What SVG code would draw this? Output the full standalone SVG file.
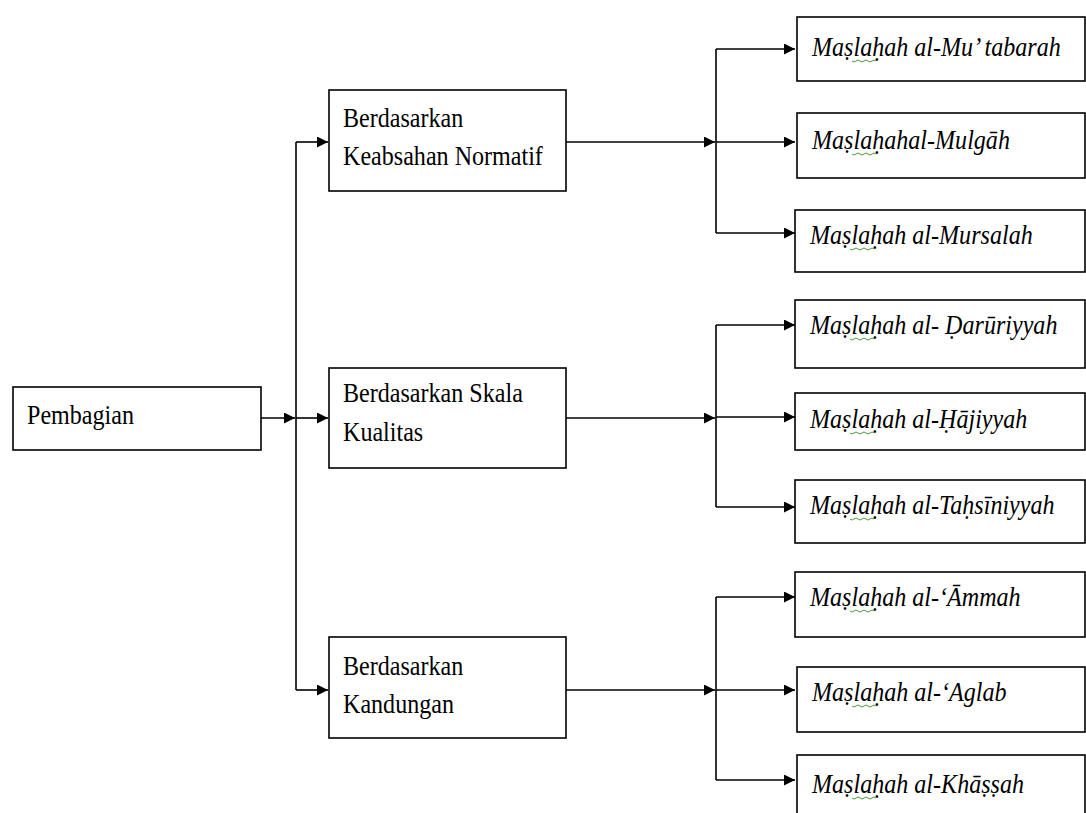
<svg xmlns="http://www.w3.org/2000/svg" width="1086" height="813" viewBox="0 0 1086 813">
<style>
.box{fill:#fff;stroke:#000;stroke-width:1.6}
.t{font-family:"Liberation Serif","Times New Roman",serif;font-size:28px;fill:#000}
.i{font-family:"Liberation Serif","Times New Roman",serif;font-size:28px;font-style:italic;fill:#000}
.ln{fill:none;stroke:#000;stroke-width:1.6}
.sq{fill:none;stroke:#4a9a3a;stroke-width:1}
</style>
<defs>
<marker id="ah" viewBox="0 0 10 10" refX="10" refY="5" markerWidth="11" markerHeight="11" markerUnits="userSpaceOnUse" orient="auto">
<path d="M0,0 L10,5 L0,10 z" fill="#000"/>
</marker>
</defs>
<rect width="1086" height="813" fill="#fff"/>
<g id="connectors">
<path class="ln" d="M261,418 H295" marker-end="url(#ah)"/>
<path class="ln" d="M296,142 V690"/>
<path class="ln" d="M296,142 H328" marker-end="url(#ah)"/>
<path class="ln" d="M296,418 H328" marker-end="url(#ah)"/>
<path class="ln" d="M296,690 H328" marker-end="url(#ah)"/>
<path class="ln" d="M566,142 H715" marker-end="url(#ah)"/>
<path class="ln" d="M716,49 V233"/>
<path class="ln" d="M716,49 H795" marker-end="url(#ah)"/>
<path class="ln" d="M716,142 H795" marker-end="url(#ah)"/>
<path class="ln" d="M716,233 H795" marker-end="url(#ah)"/>
<path class="ln" d="M566,418 H715" marker-end="url(#ah)"/>
<path class="ln" d="M716,325 V507"/>
<path class="ln" d="M716,325 H795" marker-end="url(#ah)"/>
<path class="ln" d="M716,417 H795" marker-end="url(#ah)"/>
<path class="ln" d="M716,507 H795" marker-end="url(#ah)"/>
<path class="ln" d="M566,690 H715" marker-end="url(#ah)"/>
<path class="ln" d="M716,597 V780"/>
<path class="ln" d="M716,597 H795" marker-end="url(#ah)"/>
<path class="ln" d="M716,690 H795" marker-end="url(#ah)"/>
<path class="ln" d="M716,780 H795" marker-end="url(#ah)"/>
</g>
<g id="n-pembagian"><rect class="box" x="13" y="387" width="248" height="63"/><text class="t" transform="translate(27,424) scale(0.86,1)">Pembagian</text></g>
<g id="n-normatif"><rect class="box" x="329" y="90" width="237" height="101"/><text class="t" transform="translate(343,127) scale(0.86,1)">Berdasarkan</text><text class="t" transform="translate(343,165) scale(0.86,1)">Keabsahan Normatif</text></g>
<g id="n-skala"><rect class="box" x="329" y="368" width="237" height="100"/><text class="t" transform="translate(343,402) scale(0.86,1)">Berdasarkan Skala</text><text class="t" transform="translate(343,441) scale(0.86,1)">Kualitas</text></g>
<g id="n-kandungan"><rect class="box" x="329" y="637" width="237" height="101"/><text class="t" transform="translate(343,675) scale(0.86,1)">Berdasarkan</text><text class="t" transform="translate(343,713) scale(0.86,1)">Kandungan</text></g>
<g id="n-mutabarah"><rect class="box" x="797" y="17" width="288" height="64"/><text class="i" transform="translate(812,56) scale(0.86,1)">Maṣlaḥah al-Mu’ tabarah</text><path class="sq" d="M852,61 q2,2 4,0 t4,0 t4,0 t4,0 t4,0 t4,0"/></g>
<g id="n-mulgah"><rect class="box" x="797" y="113" width="288" height="65"/><text class="i" transform="translate(812,149) scale(0.86,1)">Maṣlaḥahal-Mulgāh</text><path class="sq" d="M852,154 q2,2 4,0 t4,0 t4,0 t4,0 t4,0 t4,0"/></g>
<g id="n-mursalah"><rect class="box" x="795" y="210" width="290" height="62"/><text class="i" transform="translate(810,244) scale(0.86,1)">Maṣlaḥah al-Mursalah</text><path class="sq" d="M850,249 q2,2 4,0 t4,0 t4,0 t4,0 t4,0 t4,0"/></g>
<g id="n-daruriyyah"><rect class="box" x="795" y="300" width="290" height="68"/><text class="i" transform="translate(810,334) scale(0.86,1)">Maṣlaḥah al- Ḍarūriyyah</text><path class="sq" d="M850,339 q2,2 4,0 t4,0 t4,0 t4,0 t4,0 t4,0"/></g>
<g id="n-hajiyyah"><rect class="box" x="795" y="393" width="290" height="57"/><text class="i" transform="translate(810,428) scale(0.86,1)">Maṣlaḥah al-Ḥājiyyah</text><path class="sq" d="M850,433 q2,2 4,0 t4,0 t4,0 t4,0 t4,0 t4,0"/></g>
<g id="n-tahsiniyyah"><rect class="box" x="795" y="480" width="290" height="63"/><text class="i" transform="translate(810,514) scale(0.86,1)">Maṣlaḥah al-Taḥsīniyyah</text><path class="sq" d="M850,519 q2,2 4,0 t4,0 t4,0 t4,0 t4,0 t4,0"/></g>
<g id="n-ammah"><rect class="box" x="795" y="572" width="290" height="65"/><text class="i" transform="translate(810,606) scale(0.86,1)">Maṣlaḥah al-‘Āmmah</text><path class="sq" d="M850,611 q2,2 4,0 t4,0 t4,0 t4,0 t4,0 t4,0"/></g>
<g id="n-aglab"><rect class="box" x="797" y="667" width="288" height="65"/><text class="i" transform="translate(812,701) scale(0.86,1)">Maṣlaḥah al-‘Aglab</text><path class="sq" d="M852,706 q2,2 4,0 t4,0 t4,0 t4,0 t4,0 t4,0"/></g>
<g id="n-khassah"><rect class="box" x="797" y="755" width="288" height="70"/><text class="i" transform="translate(812,793) scale(0.86,1)">Maṣlaḥah al-Khāṣṣah</text><path class="sq" d="M852,798 q2,2 4,0 t4,0 t4,0 t4,0 t4,0 t4,0"/></g>
</svg>
